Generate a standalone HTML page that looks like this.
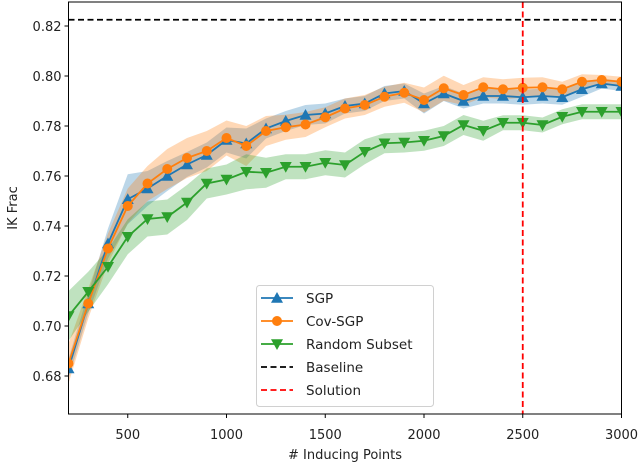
<!DOCTYPE html>
<html><head><meta charset="utf-8"><style>
body{margin:0;background:#fff;}
svg{display:block;font-family:"DejaVu Sans","Liberation Sans",sans-serif;}
</style></head><body>
<svg id="chart" width="640" height="465" viewBox="0 0 640 465"></svg>
<script>
const xs=[200,300,400,500,600,700,800,900,1000,1100,1200,1300,1400,1500,1600,1700,1800,1900,2000,2100,2200,2300,2400,2500,2600,2700,2800,2900,3000];
const sgp=[0.683,0.709,0.733,0.7507,0.755,0.760,0.7646,0.7684,0.7744,0.773,0.779,0.782,0.7844,0.785,0.788,0.789,0.793,0.794,0.789,0.793,0.790,0.792,0.792,0.7915,0.792,0.7915,0.7947,0.797,0.796];
const covsgp=[0.685,0.709,0.731,0.748,0.757,0.7628,0.7672,0.770,0.7752,0.772,0.778,0.7795,0.7806,0.7835,0.787,0.7884,0.7917,0.7933,0.7904,0.7951,0.7924,0.7955,0.7947,0.7953,0.7955,0.7947,0.7977,0.7984,0.7977];
const randsub=[0.704,0.7137,0.7237,0.7357,0.7428,0.7436,0.7494,0.757,0.7586,0.7617,0.7613,0.7637,0.7637,0.7653,0.7644,0.7697,0.7731,0.7734,0.7741,0.776,0.7804,0.7781,0.7813,0.7813,0.7804,0.7837,0.7857,0.7857,0.7857];
const sgpErr=[0.004,0.004,0.006,0.010,0.007,0.006,0.005,0.005,0.005,0.006,0.004,0.004,0.004,0.004,0.003,0.003,0.003,0.003,0.004,0.003,0.003,0.003,0.003,0.003,0.003,0.003,0.003,0.002,0.002];
const covErr=[0.008,0.006,0.006,0.007,0.007,0.008,0.008,0.008,0.007,0.008,0.006,0.005,0.005,0.004,0.004,0.004,0.004,0.004,0.005,0.005,0.004,0.004,0.004,0.004,0.004,0.003,0.003,0.002,0.002];
const randErr=[0.010,0.008,0.007,0.007,0.007,0.007,0.007,0.006,0.006,0.007,0.006,0.005,0.005,0.005,0.005,0.005,0.004,0.004,0.004,0.004,0.004,0.004,0.003,0.003,0.003,0.003,0.003,0.003,0.003];
const baseline=0.8225;
const solution=2500;
const xTicks=[500,1000,1500,2000,2500,3000];
const yTicks=[0.68,0.70,0.72,0.74,0.76,0.78,0.80,0.82];

const L=68.5,R=621.5,T=2,B=414;
const X=v=>L+(v-200)*(R-L)/2800;
const Y=v=>376-(v-0.68)*2500;
const svg=document.getElementById('chart');
const NS='http://www.w3.org/2000/svg';
function mk(tag,attrs,parent){const e=document.createElementNS(NS,tag);for(const k in attrs)e.setAttribute(k,attrs[k]);(parent||svg).appendChild(e);return e;}
const defs=mk('defs',{});
const cp=mk('clipPath',{id:'clip'},defs);mk('rect',{x:L,y:T,width:R-L,height:B-T},cp);
const plot=mk('g',{'clip-path':'url(#clip)'});



const series=[
 {name:'sgp',vals:sgp,err:sgpErr,color:'#1f77b4',m:'up'},
 {name:'cov-sgp',vals:covsgp,err:covErr,color:'#ff7f0e',m:'circle'},
 {name:'random-subset',vals:randsub,err:randErr,color:'#2ca02c',m:'down'}
];
series.forEach(s=>{
  let up=xs.map((x,i)=>X(x)+','+Y(s.vals[i]+s.err[i]));
  let dn=xs.map((x,i)=>X(x)+','+Y(s.vals[i]-s.err[i])).reverse();
  const b=mk('polygon',{points:up.concat(dn).join(' '),fill:s.color,'fill-opacity':0.3,stroke:'none'},plot);
  
  
});
function marker(g,type,cx,cy,c){
  if(type==='circle')return mk('circle',{cx:cx,cy:cy,r:5,fill:c},g);
  const s=6;
  if(type==='up')return mk('polygon',{points:`${cx},${cy-s} ${cx-s},${cy+s*0.8} ${cx+s},${cy+s*0.8}`,fill:c},g);
  return mk('polygon',{points:`${cx},${cy+s} ${cx-s},${cy-s*0.8} ${cx+s},${cy-s*0.8}`,fill:c},g);
}
series.forEach(s=>{
  const g=mk('g',{},plot);
  
  
  const l=mk('polyline',{points:xs.map((x,i)=>X(x)+','+Y(s.vals[i])).join(' '),fill:'none',stroke:s.color,'stroke-width':1.8},g);
  
  
  xs.forEach((x,i)=>{const m=marker(g,s.m,X(x),Y(s.vals[i]),s.color);
    
    });
});
const bl=mk('line',{x1:L,x2:R,y1:Y(baseline),y2:Y(baseline),stroke:'#000','stroke-width':1.8,'stroke-dasharray':'6,3.5'},plot);


const sl=mk('line',{x1:X(solution),x2:X(solution),y1:T,y2:B,stroke:'#ff0000','stroke-width':1.8,'stroke-dasharray':'6,3.5'},plot);



const frame=mk('rect',{x:L,y:T,width:R-L,height:B-T,fill:'none',stroke:'#000','stroke-width':1});


xTicks.forEach(t=>{
  mk('line',{x1:X(t),x2:X(t),y1:B,y2:B+4,stroke:'#000'});
  const tx=mk('text',{x:X(t),y:439,'text-anchor':'middle','font-size':13,fill:'#222'});tx.textContent=t;
  
  
});
yTicks.forEach(t=>{
  mk('line',{x1:L-4,x2:L,y1:Y(t),y2:Y(t),stroke:'#000'});
  const tx=mk('text',{x:L-7,y:Y(t)+5,'text-anchor':'end','font-size':13,fill:'#222'});tx.textContent=t.toFixed(2);
  
  
});
const xt=mk('text',{x:345,y:459,'text-anchor':'middle','font-size':13,fill:'#222'});xt.textContent='# Inducing Points';


const yt=mk('text',{x:0,y:0,transform:'translate(17,208) rotate(-90)','text-anchor':'middle','font-size':13,fill:'#222'});yt.textContent='IK Frac';



const lg=mk('g',{});


mk('rect',{x:256.5,y:285.5,width:177,height:121,rx:3,fill:'#fff','fill-opacity':0.85,stroke:'#d0d0d0'},lg);
const entries=[['SGP','#1f77b4','up',false],['Cov-SGP','#ff7f0e','circle',false],['Random Subset','#2ca02c','down',false],['Baseline','#000',null,true],['Solution','#ff0000',null,true]];
entries.forEach((e,i)=>{
  const y=298+i*23;
  const g=mk('g',{},lg);
  
  
  mk('line',{x1:261,x2:293,y1:y,y2:y,stroke:e[1],'stroke-width':1.8,'stroke-dasharray':e[3]?'6,3.5':'none'},g);
  if(e[2])marker(g,e[2],277,y,e[1]);
  const t=mk('text',{x:306,y:y+5,'font-size':13.5,fill:'#222'},g);t.textContent=e[0];
});
</script>
</body></html>
